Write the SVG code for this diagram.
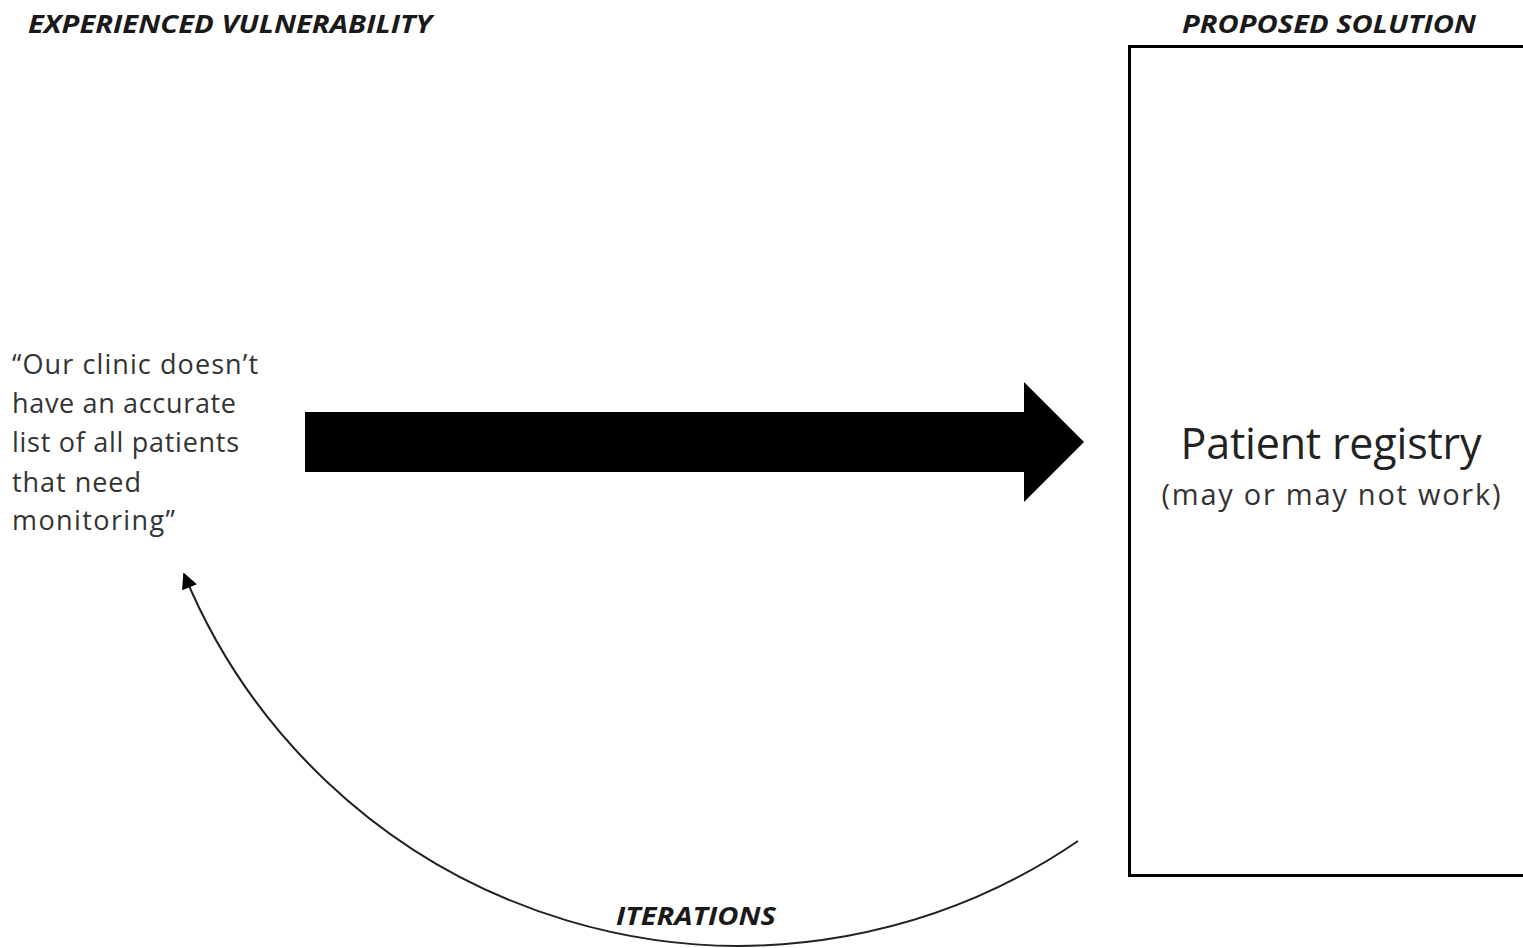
<svg xmlns="http://www.w3.org/2000/svg" width="1523" height="948" viewBox="0 0 1523 948">
<style>
.hdr{font-family:"Open Sans","Liberation Sans",sans-serif;font-weight:bold;font-style:italic;fill:#1a1a1a;font-size:25px}
.body{font-family:"Open Sans","Liberation Sans",sans-serif;fill:#333;font-size:27px}
.big{font-family:"Open Sans","Liberation Sans",sans-serif;fill:#222;font-size:43px}
.sub{font-family:"Open Sans","Liberation Sans",sans-serif;fill:#333;font-size:29px}
</style>
<defs>
<marker id="ah" viewBox="0 0 10 10" refX="9" refY="5" markerWidth="20" markerHeight="16" markerUnits="userSpaceOnUse" orient="auto" overflow="visible">
<path d="M0,0 L10,5 L0,10 Z" fill="#000"/>
</marker>
</defs>
<rect width="1523" height="948" fill="#fff"/>
<text class="hdr" x="28" y="33" textLength="404" lengthAdjust="spacingAndGlyphs">EXPERIENCED VULNERABILITY</text>
<text class="hdr" x="1182" y="33" textLength="294" lengthAdjust="spacingAndGlyphs">PROPOSED SOLUTION</text>
<g id="vulnerability">
<text class="body" x="12" y="374" textLength="246">“Our clinic doesn’t</text>
<text class="body" x="12" y="413" textLength="224">have an accurate</text>
<text class="body" x="12" y="452" textLength="227">list of all patients</text>
<text class="body" x="12" y="492" textLength="129">that need</text>
<text class="body" x="12" y="530" textLength="163">monitoring”</text>
</g>
<g id="solution">
<rect x="1129.5" y="46.5" width="420" height="829" fill="none" stroke="#000" stroke-width="3"/>
<text class="big" x="1331" y="459" text-anchor="middle" textLength="301">Patient registry</text>
<text class="sub" x="1331" y="505" text-anchor="middle" textLength="339">(may or may not work)</text>
</g>
<g id="connectors">
<polygon points="305,412 1024,412 1024,382 1084,442 1024,502 1024,472 305,472" fill="#000"/>
<path d="M1078,841 A600.5,600.5 0 0 1 184,574" fill="none" stroke="#222" stroke-width="2" marker-end="url(#ah)"/>
<text class="hdr" x="616" y="925" textLength="160" lengthAdjust="spacingAndGlyphs">ITERATIONS</text>
</g>
</svg>
